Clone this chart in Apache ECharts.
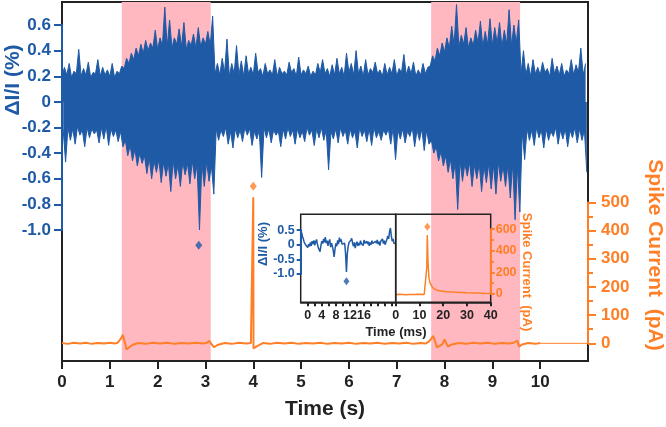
<!DOCTYPE html>
<html>
<head>
<meta charset="utf-8">
<script src="https://cdn.jsdelivr.net/npm/echarts@6/dist/echarts.min.js"></script>
<style>html,body{margin:0;padding:0;background:#fff;}#c{width:666px;height:427px;}</style>
</head>
<body>
<div id="c"></div>
<script>
// ---------- data ----------
// shaded stimulation windows (s)
const shadeStarts = [1.25, 7.72];
const shadeEnds   = [3.11, 9.58];

// main ΔI/I trace, per 0.1 s bin starting at 0.0 s:
// spike tips (max / min, %) and dense-core level (upper / lower, %)
const blueBinWidth = 0.1;
const blueHi = [
  0.27,0.30,0.24,0.41,0.26,0.31,0.23,0.33,0.27,0.25,0.30,0.24,0.28,
  0.34,0.38,0.42,0.45,0.48,0.46,0.56,0.50,0.74,0.64,0.50,0.57,0.62,0.48,0.53,0.58,0.50,0.55,0.67,
  0.30,0.34,0.49,0.30,0.44,0.32,0.36,0.27,0.38,0.26,
  0.30,0.25,0.33,0.27,0.24,0.31,0.26,0.35,0.25,0.28,
  0.24,0.30,0.33,0.26,0.29,0.34,0.27,0.38,0.30,0.40,
  0.28,0.33,0.26,0.31,0.25,0.30,0.27,0.33,0.26,0.37,
  0.28,0.31,0.25,0.30,0.27,
  0.36,0.42,0.46,0.50,0.59,0.76,0.52,0.58,0.50,0.56,0.63,0.55,0.65,0.58,0.62,0.56,0.72,0.60,0.64,
  0.40,0.30,0.33,0.27,0.31,0.26,0.34,0.28,0.30,0.25,0.33,0.29,0.42,0.30
];
const blueLo = [
  -0.47,-0.30,-0.33,-0.26,-0.35,-0.28,-0.25,-0.32,-0.29,-0.34,-0.27,-0.31,-0.35,
  -0.42,-0.46,-0.50,-0.48,-0.56,-0.60,-0.55,-0.63,-0.58,-0.70,-0.60,-0.66,-0.57,-0.64,-0.60,-1.00,-0.66,-0.62,-0.72,
  -0.30,-0.27,-0.33,-0.36,-0.28,-0.31,-0.26,-0.34,-0.29,-0.59,
  -0.28,-0.32,-0.26,-0.35,-0.29,-0.27,-0.33,-0.28,-0.31,-0.26,
  -0.34,-0.28,-0.30,-0.53,-0.29,-0.32,-0.27,-0.33,-0.28,-0.36,
  -0.27,-0.31,-0.34,-0.28,-0.30,-0.26,-0.33,-0.45,-0.29,-0.32,
  -0.27,-0.35,-0.30,-0.38,-0.33,
  -0.40,-0.46,-0.50,-0.55,-0.60,-0.84,-0.62,-0.58,-0.66,-0.60,-0.70,-0.63,-0.68,-0.72,-0.62,-0.66,-0.75,-0.92,-0.86,
  -0.45,-0.30,-0.34,-0.28,-0.36,-0.30,-0.27,-0.33,-0.29,-0.35,-0.28,-0.32,-0.30,-0.55
];
const blueCoreHi = [
  0.20,0.21,0.19,0.22,0.20,0.21,0.19,0.22,0.20,0.21,0.20,0.19,0.22,
  0.26,0.30,0.33,0.36,0.38,0.40,0.42,0.41,0.44,0.43,0.42,0.45,0.43,0.41,0.44,0.42,0.43,0.45,0.44,
  0.22,0.21,0.23,0.20,0.22,0.21,0.20,0.22,0.21,0.23,
  0.20,0.22,0.21,0.20,0.22,0.21,0.23,0.20,0.21,0.22,
  0.20,0.21,0.23,0.22,0.20,0.21,0.22,0.20,0.23,0.21,
  0.22,0.20,0.21,0.23,0.22,0.20,0.21,0.22,0.20,0.23,
  0.21,0.22,0.20,0.21,0.22,
  0.28,0.32,0.36,0.39,0.42,0.44,0.43,0.45,0.42,0.44,0.46,0.43,0.45,0.44,0.46,0.43,0.45,0.44,0.46,
  0.22,0.21,0.20,0.22,0.21,0.23,0.20,0.22,0.21,0.20,0.22,0.21,0.23,0.21
];
const blueCoreLo = [
  -0.22,-0.20,-0.21,-0.19,-0.22,-0.20,-0.21,-0.22,-0.20,-0.19,-0.21,-0.22,-0.23,
  -0.30,-0.34,-0.37,-0.40,-0.42,-0.44,-0.46,-0.45,-0.47,-0.48,-0.46,-0.49,-0.47,-0.48,-0.46,-0.49,-0.48,-0.47,-0.50,
  -0.21,-0.22,-0.20,-0.23,-0.21,-0.22,-0.20,-0.21,-0.23,-0.22,
  -0.20,-0.21,-0.22,-0.23,-0.21,-0.20,-0.22,-0.21,-0.23,-0.20,
  -0.22,-0.21,-0.20,-0.22,-0.23,-0.21,-0.20,-0.22,-0.21,-0.23,
  -0.20,-0.22,-0.21,-0.20,-0.23,-0.22,-0.21,-0.20,-0.22,-0.21,
  -0.23,-0.20,-0.22,-0.21,-0.22,
  -0.30,-0.35,-0.39,-0.42,-0.45,-0.47,-0.46,-0.48,-0.47,-0.49,-0.48,-0.50,-0.48,-0.49,-0.47,-0.50,-0.49,-0.48,-0.50,
  -0.23,-0.21,-0.22,-0.20,-0.22,-0.21,-0.23,-0.20,-0.22,-0.21,-0.22,-0.20,-0.21,-0.22
];
// detected spike markers
const blueMarker = [[2.86, -1.12]];
const spikeMarker = [[4.0, 557]];

// spike current trace (s, pA)
const spikeTrace = [
  [0,1],[0.12,-2],[0.25,2],[0.38,-1],[0.5,2],[0.62,-2],[0.75,1],[0.88,-1],[1.0,2],[1.1,-1],
  [1.17,3],[1.22,14],[1.27,30],[1.31,6],[1.35,-22],[1.4,-15],[1.48,-5],[1.6,1],[1.75,-2],[1.9,2],
  [2.05,-1],[2.2,2],[2.35,-2],[2.5,1],[2.65,-1],[2.8,2],[2.95,-1],[3.03,2],[3.08,9],[3.13,-4],
  [3.18,-14],[3.25,-6],[3.4,1],[3.55,-2],[3.7,2],[3.85,-1],[3.95,1],[3.99,-6],[4.0,518],[4.005,-18],
  [4.04,-24],[4.1,-8],[4.2,1],[4.35,-2],[4.5,2],[4.65,-1],[4.8,2],[4.95,-2],[5.1,1],[5.25,-1],
  [5.4,2],[5.55,-2],[5.7,1],[5.85,-1],[6.0,2],[6.15,-2],[6.3,1],[6.45,-1],[6.6,2],[6.75,-2],
  [6.9,1],[7.05,-1],[7.2,2],[7.35,-2],[7.5,1],[7.6,-1],[7.67,6],[7.72,16],[7.76,26],[7.8,8],
  [7.84,-14],[7.9,-9],[7.96,-2],[8.0,14],[8.03,3],[8.07,-12],[8.15,-4],[8.3,1],[8.45,-2],[8.6,2],
  [8.75,-1],[8.9,2],[9.05,-2],[9.2,1],[9.35,-1],[9.45,2],[9.52,10],[9.56,-12],[9.62,-4],[9.75,1],
  [9.9,-2],[10.0,1]
];
const spikeTail = [[10.0,0],[11.0,0]];

// inset: ΔI/I around one spike (ms, %)
const insetBlue = [
  [-2.0,0.50],[-1.75,0.42],[-1.5,0.28],[-1.25,0.20],[-1.0,0.08],[-0.75,0.12],[-0.5,-0.02],[-0.25,0.04],
  [0,-0.10],[0.25,0.02],[0.5,-0.06],[0.75,0.08],[1.0,-0.04],[1.25,0.12],[1.5,0.02],[1.75,0.15],
  [2.0,-0.02],[2.25,0.10],[2.5,0.18],[2.75,0.02],[3.0,-0.10],[3.25,-0.05],[3.5,-0.24],[3.75,-0.02],
  [4.0,0.12],[4.25,0.04],[4.5,0.20],[4.75,0.08],[5.0,0.26],[5.25,0.05],[5.5,0.14],[5.75,-0.04],
  [6.0,0.10],[6.25,0.18],[6.5,-0.08],[6.75,0.05],[7.0,-0.05],[7.25,-0.20],[7.5,-0.42],[7.75,-0.15],
  [8.0,0.05],[8.25,-0.05],[8.5,0.15],[8.75,0.02],[9.0,0.24],[9.25,0.10],[9.5,0.18],[9.75,0.02],
  [10.0,0.08],[10.25,-0.04],[10.5,0.05],[10.75,-0.30],[11.0,-0.93],[11.25,-0.30],[11.5,-0.05],[11.75,0.08],
  [12.0,0.02],[12.25,0.15],[12.5,0.22],[12.75,0.05],[13.0,-0.05],[13.25,0.08],[13.5,-0.12],[13.75,0.02],
  [14.0,0.10],[14.25,-0.04],[14.5,0.06],[14.75,-0.02],[15.0,0.14],[15.25,0.04],[15.5,0.10],[15.75,-0.03],
  [16.0,0.16],[16.25,0.05],[16.5,0.00],[16.75,0.12],[17.0,0.02],[17.25,0.10],[17.5,-0.04],[17.75,0.08],
  [18.0,0.00],[18.25,0.14],[18.5,0.04],[18.75,0.10],[19.0,-0.02],[19.25,0.12],[19.5,0.05],[19.75,0.16],
  [20.0,0.02],[20.25,0.10],[20.5,-0.03],[20.75,0.12],[21.0,0.06],[21.25,0.20],[21.5,0.04],[21.75,0.14],
  [22.0,0.00],[22.25,0.10],[22.5,0.18],[22.75,0.30],[23.0,0.20],[23.25,0.45],[23.5,0.57],[23.75,0.30],
  [24.0,0.12],[24.25,0.20],[24.5,0.05],[24.75,0.10],[25.0,0.04]
];
const insetBlueMarker = [[11.0, -1.25]];
// inset: spike current (ms, pA)
const insetSpike = [
  [0,-5],[2,-3],[4,-6],[6,-4],[8,-5],[10,-3],[12,-5],[12.8,-4],[13.1,250],[13.3,546],[13.6,300],
  [14.0,150],[14.5,100],[15.2,70],[16,50],[17.3,35],[19,27],[21.5,20],[25.7,15],[30,11],[34,8],[37,6],[40,5]
];
const insetSpikeMarker = [[13.3, 623]];

// tick values
const timeTicks = [0,1,2,3,4,5,6,7,8,9,10];
const insetMsTicks = [0,2,4,6,8,10,12,14,16,18,20,22,24];
const insetMsLabels = [0,4,8,12,16];

// ---------- build ----------
const upperEdge = [], lowerEdge = [];
for (let i = 0; i < blueHi.length; i++) {
  const t = i * blueBinWidth;
  upperEdge.push([t, blueCoreHi[i]], [t + blueBinWidth * 0.5, blueHi[i]]);
  lowerEdge.push([t + blueBinWidth * 0.25, blueCoreLo[i]], [t + blueBinWidth * 0.75, blueLo[i]]);
}
const shadeData = shadeStarts.map((s, i) => [{xAxis: s}, {xAxis: shadeEnds[i]}]);

const BLUE = '#1f5aa6', ORANGE = '#ff7f27', PINK = '#ffb7c0', BLACK = '#222222';
const FF = '"Liberation Sans", Arial, sans-serif';
const fmt1 = v => Math.abs(v) < 1e-9 ? '0' : v.toFixed(1);

const chart = echarts.init(document.getElementById('c'), null, {renderer: 'canvas'});
const hiddenX = (gi, min, max) => ({gridIndex: gi, type: 'value', min, max, show: false});
const hiddenY = (gi, min, max) => ({gridIndex: gi, type: 'value', min, max, show: false});

chart.setOption({
  animation: false,
  backgroundColor: '#fff',
  grid: [
    {left: 62, right: 78, top: 2, height: 359, show: true, borderColor: BLACK, borderWidth: 2, backgroundColor: 'transparent', z: 0},
    {left: 62, right: 78, top: 25, height: 205},
    {left: 62, right: 78, top: 202.4, height: 140.9},
    {left: 300.7, width: 95, top: 214.3, height: 88, show: true, borderColor: BLACK, borderWidth: 1.5, backgroundColor: 'transparent', z: 6},
    {left: 300.7, width: 95, top: 230.1, height: 43.8},
    {left: 395.7, width: 95, top: 214.3, height: 88, show: true, borderColor: BLACK, borderWidth: 1.5, backgroundColor: 'transparent', z: 6},
    {left: 395.7, width: 95, top: 229.2, height: 64.8}
  ],
  xAxis: [
    {gridIndex: 0, type: 'value', min: 0, max: 11, interval: 1, z: 10,
      axisLine: {onZero: false, lineStyle: {color: BLACK, width: 2}},
      axisTick: {customValues: timeTicks, length: 8, lineStyle: {color: BLACK, width: 2}},
      axisLabel: {customValues: timeTicks, color: BLACK, fontSize: 17, fontWeight: 'bold', fontFamily: FF, margin: 13},
      splitLine: {show: false},
      name: 'Time (s)', nameLocation: 'middle', nameGap: 38,
      nameTextStyle: {color: BLACK, fontSize: 21, fontWeight: 'bold', fontFamily: FF}},
    hiddenX(1, 0, 11),
    hiddenX(2, 0, 11),
    {gridIndex: 3, type: 'value', min: -2, max: 25, z: 10,
      axisLine: {onZero: false, lineStyle: {color: BLACK, width: 1.5}},
      axisTick: {customValues: insetMsTicks, length: 4, lineStyle: {color: BLACK, width: 2}},
      axisLabel: {customValues: insetMsLabels, color: BLACK, fontSize: 12.5, fontWeight: 'bold', fontFamily: FF, margin: 7},
      splitLine: {show: false}},
    hiddenX(4, -2, 25),
    {gridIndex: 5, type: 'value', min: 0, max: 40, interval: 10, z: 10,
      axisLine: {onZero: false, lineStyle: {color: BLACK, width: 1.5}},
      axisTick: {length: 4, lineStyle: {color: BLACK, width: 2}},
      axisLabel: {color: BLACK, fontSize: 12.5, fontWeight: 'bold', fontFamily: FF, margin: 7},
      splitLine: {show: false}},
    hiddenX(6, 0, 40)
  ],
  yAxis: [
    hiddenY(0, -2.023, 0.780),
    hiddenY(0, -62.8, 1211),
    {gridIndex: 1, type: 'value', min: -1.0, max: 0.6, interval: 0.2, position: 'left', z: 10,
      axisLine: {show: true, onZero: false, lineStyle: {color: BLUE, width: 2}},
      axisTick: {show: true, length: 8, lineStyle: {color: BLUE, width: 2}},
      axisLabel: {color: BLUE, fontSize: 17, fontWeight: 'bold', fontFamily: FF, margin: 11, formatter: fmt1},
      splitLine: {show: false}},
    {gridIndex: 2, type: 'value', min: 0, max: 500, interval: 100, position: 'right', z: 10,
      axisLine: {show: true, onZero: false, lineStyle: {color: ORANGE, width: 2}},
      axisTick: {show: true, length: 8, lineStyle: {color: ORANGE, width: 2}},
      minorTick: {show: true, splitNumber: 2, length: 5, lineStyle: {color: ORANGE, width: 2}},
      axisLabel: {color: ORANGE, fontSize: 17, fontWeight: 'bold', fontFamily: FF, margin: 13},
      splitLine: {show: false}, minorSplitLine: {show: false}},
    hiddenY(3, -1.97, 1.04),
    {gridIndex: 4, type: 'value', min: -1.0, max: 0.5, interval: 0.5, position: 'left', z: 10,
      axisLine: {show: true, onZero: false, lineStyle: {color: BLUE, width: 2}},
      axisTick: {show: true, length: 4, lineStyle: {color: BLUE, width: 2}},
      axisLabel: {color: BLUE, fontSize: 12.5, fontWeight: 'bold', fontFamily: FF, margin: 6, formatter: fmt1},
      splitLine: {show: false}},
    hiddenY(5, -77, 738),
    {gridIndex: 6, type: 'value', min: 0, max: 600, interval: 200, position: 'right', z: 10,
      axisLine: {show: true, onZero: false, lineStyle: {color: ORANGE, width: 2}},
      axisTick: {show: true, length: 4, lineStyle: {color: ORANGE, width: 2}},
      minorTick: {show: true, splitNumber: 2, length: 3, lineStyle: {color: ORANGE, width: 2}},
      axisLabel: {color: ORANGE, fontSize: 12.5, fontWeight: 'bold', fontFamily: FF, margin: 5},
      splitLine: {show: false}, minorSplitLine: {show: false}}
  ],
  graphic: [
    {type: 'text', x: 13, y: 80, rotation: Math.PI / 2, z: 20,
      style: {text: 'ΔI/I (%)', fill: BLUE, font: 'bold 21px ' + FF, align: 'center', verticalAlign: 'middle', textAlign: 'center', textVerticalAlign: 'middle'}},
    {type: 'text', x: 655, y: 255, rotation: -Math.PI / 2, z: 20,
      style: {text: 'Spike Current  (pA)', fill: ORANGE, font: 'bold 21px ' + FF, align: 'center', verticalAlign: 'middle', textAlign: 'center', textVerticalAlign: 'middle'}},
    {type: 'text', x: 263, y: 244, rotation: Math.PI / 2, z: 20,
      style: {text: 'ΔI/I (%)', fill: BLUE, font: 'bold 13px ' + FF, align: 'center', verticalAlign: 'middle', textAlign: 'center', textVerticalAlign: 'middle'}},
    {type: 'text', x: 527, y: 272, rotation: -Math.PI / 2, z: 20,
      style: {text: 'Spike Current  (pA)', fill: ORANGE, font: 'bold 13px ' + FF, align: 'center', verticalAlign: 'middle', textAlign: 'center', textVerticalAlign: 'middle'}},
    {type: 'text', x: 396, y: 332, z: 20,
      style: {text: 'Time (ms)', fill: BLACK, font: 'bold 13px ' + FF, align: 'center', verticalAlign: 'middle', textAlign: 'center', textVerticalAlign: 'middle'}}
  ],
  series: [
    {type: 'line', xAxisIndex: 0, yAxisIndex: 0, data: [], z: 0, silent: true,
      markArea: {silent: true, itemStyle: {color: PINK}, data: shadeData}},
    {type: 'line', xAxisIndex: 0, yAxisIndex: 0, data: upperEdge, symbol: 'none', z: 3,
      lineStyle: {color: BLUE, width: 1}, areaStyle: {color: BLUE, opacity: 1}},
    {type: 'line', xAxisIndex: 0, yAxisIndex: 0, data: lowerEdge, symbol: 'none', z: 3,
      lineStyle: {color: BLUE, width: 1}, areaStyle: {color: BLUE, opacity: 1}},
    {type: 'line', xAxisIndex: 0, yAxisIndex: 1, data: spikeTrace, symbol: 'none', z: 3,
      lineStyle: {color: ORANGE, width: 2}},
    {type: 'line', xAxisIndex: 0, yAxisIndex: 1, data: spikeTail, symbol: 'none', z: 3,
      lineStyle: {color: ORANGE, width: 1}},
    {type: 'scatter', xAxisIndex: 0, yAxisIndex: 0, data: blueMarker, symbol: 'diamond', symbolSize: [7, 9], z: 4,
      itemStyle: {color: BLUE}},
    {type: 'scatter', xAxisIndex: 0, yAxisIndex: 1, data: spikeMarker, symbol: 'diamond', symbolSize: [7, 9], z: 4,
      itemStyle: {color: ORANGE}},
    {type: 'line', xAxisIndex: 3, yAxisIndex: 4, data: insetBlue, symbol: 'none', z: 5,
      lineStyle: {color: BLUE, width: 1.5}},
    {type: 'scatter', xAxisIndex: 3, yAxisIndex: 4, data: insetBlueMarker, symbol: 'diamond', symbolSize: [6, 8], z: 5,
      itemStyle: {color: BLUE}},
    {type: 'line', xAxisIndex: 5, yAxisIndex: 6, data: insetSpike, symbol: 'none', z: 5,
      lineStyle: {color: ORANGE, width: 1.5}},
    {type: 'scatter', xAxisIndex: 5, yAxisIndex: 6, data: insetSpikeMarker, symbol: 'diamond', symbolSize: [6, 8], z: 5,
      itemStyle: {color: ORANGE}}
  ]
});
</script>
</body>
</html>
